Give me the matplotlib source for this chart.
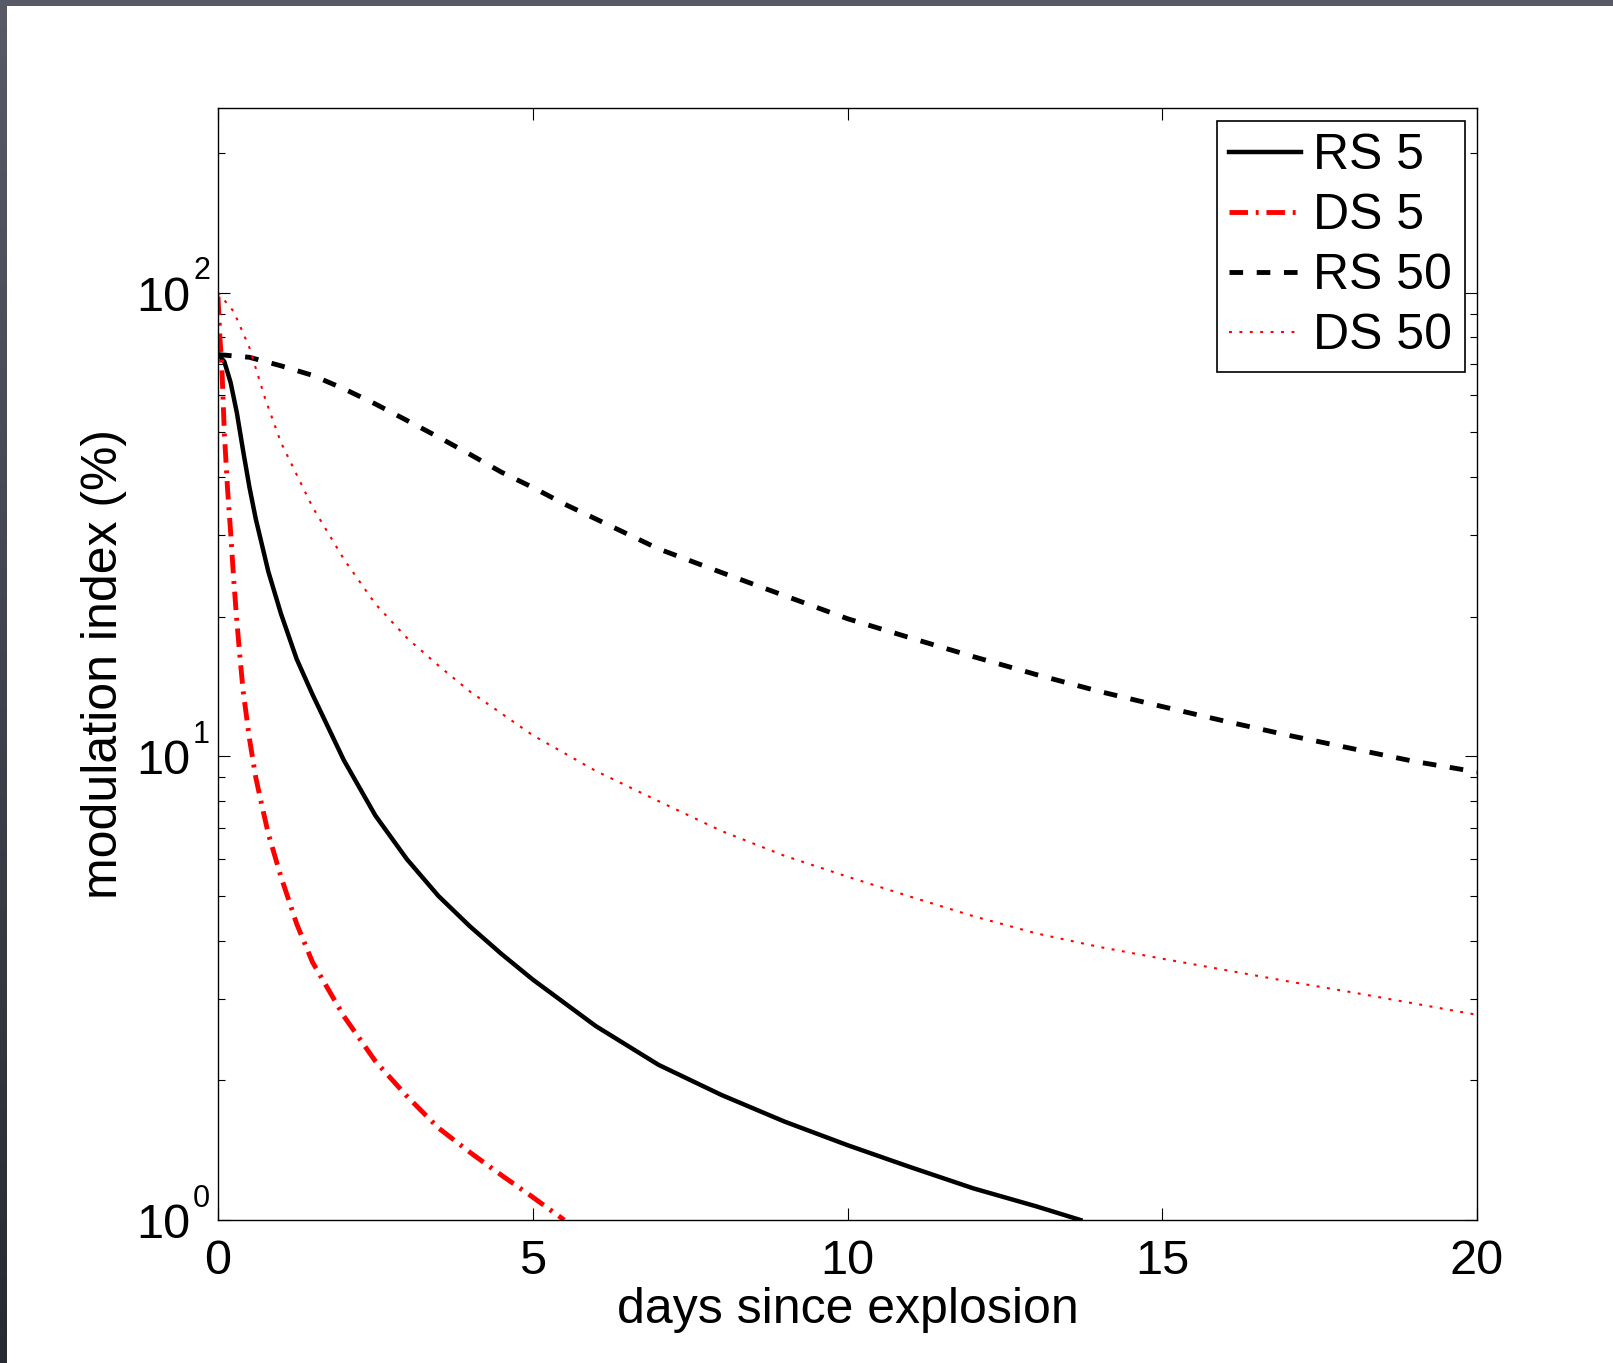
import matplotlib
matplotlib.use("Agg")
import matplotlib.pyplot as plt
import numpy as np
from matplotlib.ticker import LogLocator, NullFormatter

# ---------------- data ----------------
days_rs5 = [0, 0.1, 0.2, 0.3, 0.4, 0.5, 0.6, 0.8, 1.0, 1.25, 1.5, 2.0, 2.5, 3.0, 3.5,
            4.0, 4.5, 5.0, 6.0, 7.0, 8.0, 9.0, 10.0, 11.0, 12.0, 13.0, 13.7]
mod_rs5 = [73.5, 71, 64, 55, 45.5, 38, 32.5, 25, 20.3, 16.2, 13.6, 9.8, 7.45, 6.0, 5.0,
           4.3, 3.75, 3.3, 2.62, 2.16, 1.86, 1.63, 1.45, 1.30, 1.17, 1.07, 1.0]

days_ds5 = [0, 0.03, 0.06, 0.1, 0.15, 0.2, 0.25, 0.3, 0.35, 0.4, 0.5, 0.6, 0.7, 0.8,
            1.0, 1.25, 1.5, 2.0, 2.5, 3.0, 3.5, 4.0, 4.5, 5.0, 5.5]
mod_ds5 = [98, 80, 70, 50, 38, 30.5, 24, 19.5, 16.3, 13.8, 10.9, 9.0, 7.8, 6.8,
           5.5, 4.35, 3.6, 2.75, 2.2, 1.85, 1.58, 1.40, 1.25, 1.12, 1.0]

days_rs50 = [0, 0.5, 1, 1.5, 2, 2.5, 3, 3.5, 4, 4.5, 5, 5.5, 6, 7, 8, 9, 10,
             11, 12, 13, 14, 15, 16, 17, 18, 19, 20]
mod_rs50 = [73.5, 72.5, 69.5, 66.3, 62, 57.5, 53, 48.8, 44.8, 41, 38, 35, 32.5, 28,
            24.9, 22.2, 19.8, 18, 16.4, 15, 13.8, 12.8, 11.9, 11.1, 10.4, 9.75, 9.25]

days_ds50 = [0, 0.25, 0.5, 0.75, 1, 1.5, 2, 2.5, 3, 3.5, 4, 5, 6, 7, 8, 9, 10,
             11, 12, 13, 14, 15, 16, 17, 18, 19, 20]
mod_ds50 = [100, 91, 76, 59, 47.5, 34.5, 26.6, 21.3, 18, 15.7, 13.8, 11.1, 9.3, 8.0,
            6.9, 6.1, 5.5, 4.98, 4.52, 4.15, 3.88, 3.66, 3.46, 3.27, 3.1, 2.93, 2.77]

series_labels = ["RS 5", "DS 5", "RS 50", "DS 50"]
x_ticks = [0, 5, 10, 15, 20]
y_ticks = [1, 10, 100]
y_tick_exponents = ["0", "1", "2"]
x_label = "days since explosion"
y_label = "modulation index (%)"

# ---------------- style ----------------
plt.rcParams["font.family"] = ["Liberation Sans", "DejaVu Sans"]

W, H = 1613, 1363
fig = plt.figure(figsize=(W / 100, H / 100), dpi=100)
fig.patch.set_facecolor("white")

# dark screenshot frame (left and top strips)
top_col = np.array([88, 90, 104]) / 255.0
bot_col = np.array([40, 42, 50]) / 255.0
t = np.linspace(0, 1, H)[:, None]
left_strip = (top_col[None, :] * (1 - t) + bot_col[None, :] * t)[:, None, :]
left_strip = np.repeat(left_strip, 7, axis=1)
fig.figimage(left_strip, xo=0, yo=0, origin="upper", zorder=0)
top_strip = np.ones((6, W, 3)) * top_col[None, None, :]
fig.figimage(top_strip, xo=0, yo=H - 6, origin="upper", zorder=0)

ax = fig.add_axes([218 / W, (H - 1220) / H, (1477 - 218) / W, (1220 - 108) / H])

ax.plot(days_rs5, mod_rs5, color="k", lw=3.2, label=series_labels[0])
ax.plot(days_ds5, mod_ds5, color="r", lw=3.5,
        linestyle=(0, (3.8, 1.6, 0.6, 1.6)), label=series_labels[1])
ax.plot(days_rs50, mod_rs50, color="k", lw=3.5,
        linestyle=(0, (2.8, 2.8)), label=series_labels[2])
ax.plot(days_ds50, mod_ds50, color="r", lw=1.5,
        linestyle=(0, (1.4, 3.6)), label=series_labels[3])

ax.set_yscale("log")
ax.set_xlim(0, 20)
ax.set_ylim(1, 250)
ax.set_xticks(x_ticks)
ax.set_xticklabels([str(v) for v in x_ticks])
ax.set_yticks(y_ticks)
ax.yaxis.set_major_formatter(NullFormatter())
ax.yaxis.set_minor_locator(LogLocator(base=10, subs=np.arange(2, 10)))
ax.yaxis.set_minor_formatter(NullFormatter())

ax.tick_params(which="both", direction="in", top=True, right=True,
               labelsize=35, color="k")
ax.tick_params(which="major", length=8.6, width=0.8)
ax.tick_params(which="minor", length=5, width=0.8)
ax.tick_params(axis="x", pad=14)
ax.tick_params(axis="y", labelleft=False)
for s in ax.spines.values():
    s.set_linewidth(1.0)

# y tick labels as "10" with a superscript exponent (MATLAB style)
ytrans = ax.get_yaxis_transform()
for v, e in zip(y_ticks, y_tick_exponents):
    ax.annotate("10", xy=(0, v), xycoords=ytrans, xytext=(-20.0, -13.0),
                textcoords="offset points", ha="right", va="baseline",
                fontsize=35, annotation_clip=False)
    ax.annotate(e, xy=(0, v), xycoords=ytrans, xytext=(-5.8, 9.4),
                textcoords="offset points", ha="right", va="baseline",
                fontsize=22, annotation_clip=False)

ax.set_xlabel(x_label, fontsize=36, labelpad=2)
ax.set_ylabel(y_label, fontsize=36, labelpad=62)

leg = ax.legend(loc="upper right", fontsize=36, frameon=True, fancybox=False,
                edgecolor="k", framealpha=1, borderpad=0.25, labelspacing=0.28,
                handlelength=1.44, handletextpad=0.24, borderaxespad=0.25)
leg.get_frame().set_linewidth(1.2)

fig.savefig("out.png", dpi=100, facecolor="white")
